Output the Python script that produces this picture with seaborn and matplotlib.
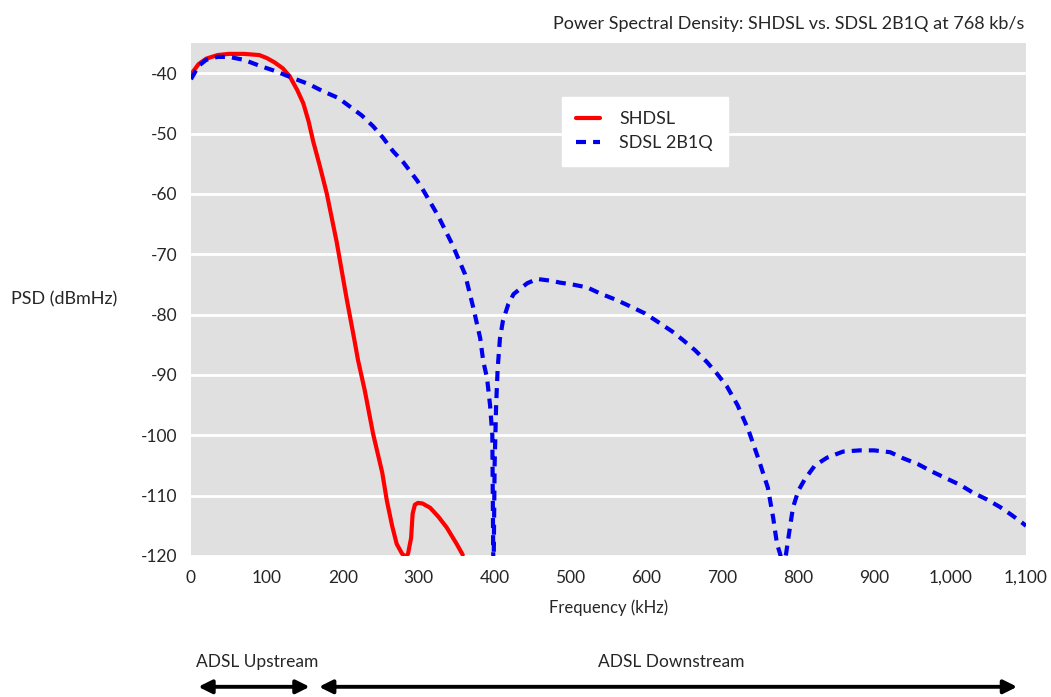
import matplotlib
matplotlib.use('Agg')
import matplotlib.pyplot as plt
import matplotlib.transforms as mtransforms
import seaborn as sns
import pandas as pd

# SHDSL curve (kHz, dBm/Hz)
shdsl_freq = [0, 10, 20, 35, 50, 70, 90, 100, 110, 121, 130, 140, 148, 155, 161, 170, 179,
              192, 205, 215, 220, 229, 240, 252, 258, 265, 271, 278, 283, 286, 290, 292,
              295, 299, 305, 315, 326, 337, 350, 358]
shdsl_psd = [-40.2, -38.5, -37.6, -37.0, -36.8, -36.8, -37.0, -37.5, -38.2, -39.2, -40.5,
             -42.8, -45.0, -48.0, -51.3, -55.5, -60.0, -68.0, -77.3, -84.0, -87.5, -92.6,
             -99.8, -106.2, -110.8, -115.0, -118.0, -119.6, -120.2, -119.6, -117.0, -113.0,
             -111.5, -111.2, -111.3, -112.0, -113.5, -115.3, -118.0, -119.8]

# SDSL 2B1Q curve
sdsl_freq = [0, 10, 20, 35, 50, 70, 91, 110, 134, 155, 174, 194, 209, 225, 240, 253, 266,
             280, 298, 306, 325, 344, 361, 372, 381, 385, 390, 394, 397, 398.5, 400, 402,
             404, 407, 411, 418, 425, 443, 456, 475, 486, 502, 522, 539, 561, 578, 598, 615,
             634, 648, 664, 680, 693, 706, 720, 734, 747, 760, 767, 772, 776, 780, 784, 787,
             793, 800, 809, 822, 838, 859, 881, 900, 921, 938, 958, 976, 996, 1013, 1030,
             1048, 1066, 1081, 1095, 1100]
sdsl_psd = [-41.0, -38.8, -37.8, -37.3, -37.3, -37.8, -38.8, -39.6, -40.8, -41.8, -43.0,
            -44.1, -45.5, -47.0, -48.8, -50.7, -52.9, -54.8, -57.8, -59.4, -63.5, -68.3,
            -73.3, -78.9, -83.9, -87.7, -90.5, -95.0, -100.0, -125.0, -105.0, -95.0, -89.0,
            -84.0, -81.0, -78.3, -76.6, -74.8, -74.1, -74.4, -74.7, -75.0, -75.5, -76.5,
            -77.6, -78.6, -79.8, -81.2, -82.8, -84.2, -85.9, -87.9, -89.8, -91.9, -95.0,
            -99.0, -103.7, -108.7, -113.7, -118.0, -119.6, -122.0, -119.6, -117.0, -112.0,
            -109.2, -107.2, -105.0, -103.7, -102.7, -102.5, -102.5, -102.8, -103.8, -104.8,
            -106.0, -107.2, -108.2, -109.5, -110.6, -111.9, -113.2, -114.5, -115.0]

y_ticks = [-40, -50, -60, -70, -80, -90, -100, -110, -120]
x_ticks = [0, 100, 200, 300, 400, 500, 600, 700, 800, 900, 1000, 1100]
x_labels = ['0', '100', '200', '300', '400', '500', '600', '700', '800', '900', '1,000', '1,100']

df = pd.concat([
    pd.DataFrame({'freq': shdsl_freq, 'psd': shdsl_psd, 'series': 'SHDSL'}),
    pd.DataFrame({'freq': sdsl_freq, 'psd': sdsl_psd, 'series': 'SDSL 2B1Q'}),
])

sns.set_style('white')
plt.rcParams['font.family'] = ['Lato', 'DejaVu Sans']

fig = plt.figure(figsize=(10.51, 6.97), dpi=100)
ax = fig.add_axes([0.1817, 0.2023, 0.7945, 0.736])
ax.set_facecolor('#e0e0e0')

sns.lineplot(data=df, x='freq', y='psd', hue='series', style='series',
             palette={'SHDSL': '#ff0000', 'SDSL 2B1Q': '#0000ee'},
             dashes={'SHDSL': '', 'SDSL 2B1Q': (2.4, 1.7)},
             linewidth=3, ax=ax, sort=False)

ax.set_xlim(0, 1100)
ax.set_ylim(-120, -35)
ax.set_yticks(y_ticks)
ax.set_yticklabels([str(v) for v in y_ticks])
ax.set_xticks(x_ticks)
ax.set_xticklabels(x_labels)
ax.tick_params(length=0, labelsize=12.5, pad=10)
ax.yaxis.grid(True, color='white', linewidth=2)
ax.xaxis.grid(False)
ax.set_axisbelow(True)
for s in ax.spines.values():
    s.set_visible(False)

ax.set_xlabel('Frequency (kHz)', fontsize=12, labelpad=10)
ax.set_ylabel('')
fig.text(0.01, 0.57, 'PSD (dBmHz)', fontsize=13, ha='left', va='center')
fig.text(0.975, 0.965, 'Power Spectral Density: SHDSL vs. SDSL 2B1Q at 768 kb/s',
         fontsize=13, ha='right', va='center')

leg = ax.legend(loc='upper left', bbox_to_anchor=(0.444, 0.895), frameon=True,
                fancybox=False, fontsize=13, handlelength=1.3, handletextpad=1.1,
                borderpad=0.8, labelspacing=0.45, borderaxespad=0)
leg.get_frame().set_facecolor('white')
leg.get_frame().set_edgecolor('white')
leg.get_frame().set_alpha(1)

# ADSL band arrows below the axis
trans = mtransforms.blended_transform_factory(ax.transData, ax.transAxes)
ax.annotate('', xy=(6, -0.255), xytext=(160, -0.255), xycoords=trans, textcoords=trans,
            arrowprops=dict(arrowstyle='<|-|>', color='black', lw=2.8, mutation_scale=20),
            annotation_clip=False)
ax.annotate('', xy=(165, -0.255), xytext=(1092, -0.255), xycoords=trans, textcoords=trans,
            arrowprops=dict(arrowstyle='<|-|>', color='black', lw=2.8, mutation_scale=20),
            annotation_clip=False)
ax.text(6, -0.207, 'ADSL Upstream', transform=trans, fontsize=12.5, ha='left', va='center')
ax.text(633, -0.207, 'ADSL Downstream', transform=trans, fontsize=12.5, ha='center', va='center')

fig.savefig('out.png', dpi=100)
